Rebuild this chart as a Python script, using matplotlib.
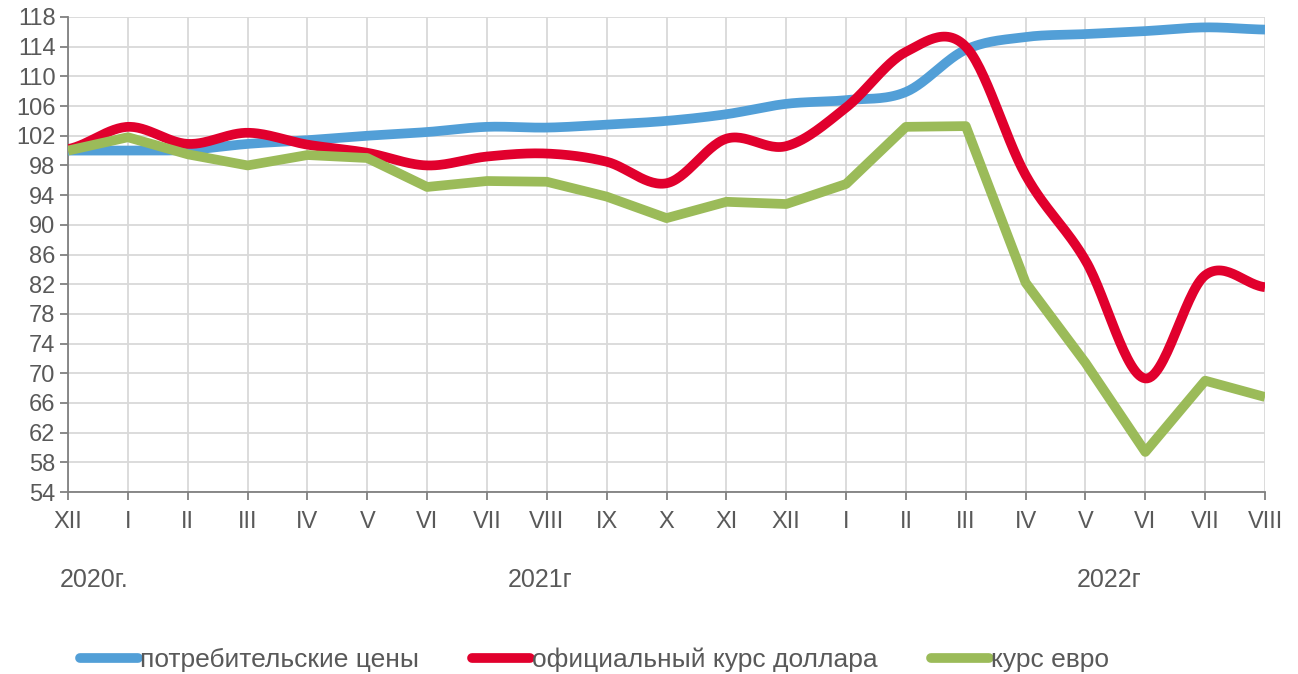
import numpy as np
import matplotlib.pyplot as plt
from matplotlib.lines import Line2D

plt.rcParams['font.family'] = ['Liberation Sans', 'DejaVu Sans']

# month labels, Dec 2020 .. Aug 2022
months = ['XII', 'I', 'II', 'III', 'IV', 'V', 'VI', 'VII', 'VIII', 'IX', 'X', 'XI',
          'XII', 'I', 'II', 'III', 'IV', 'V', 'VI', 'VII', 'VIII']

# consumer prices
cpi = [100, 100, 100.1, 100.9, 101.4, 102, 102.5, 103.2, 103.1, 103.5, 104, 104.9,
       106.3, 106.8, 107.9, 113.6, 115.3, 115.7, 116.1, 116.6, 116.3]
# official USD rate
usd = [100.2, 103.2, 100.9, 102.4, 100.8, 99.7, 98.0, 99.2, 99.6, 98.5, 95.6, 101.6,
       100.6, 105.8, 113.3, 114.0, 96.7, 85.2, 69.3, 83.2, 81.6]
# EUR rate
eur = [100, 101.8, 99.5, 98.0, 99.4, 99.0, 95.1, 95.9, 95.8, 93.8, 90.9, 93.1,
       92.8, 95.5, 103.2, 103.3, 82.2, 71.4, 59.4, 69.0, 66.8]

years = ['2020г.', '2021г', '2022г']

BLUE = '#529FD7'
RED = '#E1002D'
GREEN = '#9BBB59'
TXT = '#595959'
FS = 17


def smooth(y, n=30):
    # Excel-like smoothed line (Catmull-Rom through the points)
    y = np.asarray(y, dtype=float)
    p = np.concatenate([[y[0]], y, [y[-1]]])
    xs, ys = [], []
    for i in range(len(y) - 1):
        p0, p1, p2, p3 = p[i], p[i + 1], p[i + 2], p[i + 3]
        t = np.linspace(0, 1, n, endpoint=False)
        c1 = p1 + (p2 - p0) / 6
        c2 = p2 - (p3 - p1) / 6
        v = (1 - t) ** 3 * p1 + 3 * (1 - t) ** 2 * t * c1 + 3 * (1 - t) * t ** 2 * c2 + t ** 3 * p2
        xs.append(i + t)
        ys.append(v)
    xs.append([len(y) - 1])
    ys.append([y[-1]])
    return np.concatenate(xs), np.concatenate(ys)


fig = plt.figure(figsize=(12.98, 6.74), dpi=100)
ax = fig.add_axes([0.0524, 0.27, 0.9222, 0.7048])

x = np.arange(len(months))
lw = 7
xb, yb = smooth(cpi)
ax.plot(xb, yb, color=BLUE, lw=lw, solid_capstyle='butt', zorder=3)
xr, yr = smooth(usd)
ax.plot(xr, yr, color=RED, lw=lw, solid_capstyle='butt', zorder=4)
ax.plot(x, eur, color=GREEN, lw=lw, solid_capstyle='butt', solid_joinstyle='round', zorder=5)

ax.set_xlim(0, len(months) - 1)
ax.set_ylim(54, 118)
ax.set_yticks(np.arange(54, 119, 4))
ax.set_xticks(x)
ax.set_xticklabels(months)
ax.grid(True, color='#D9D9D9', lw=1.3)
ax.set_axisbelow(True)
for s in ['top', 'right']:
    ax.spines[s].set_visible(False)
for s in ['left', 'bottom']:
    ax.spines[s].set_color('#808080')
    ax.spines[s].set_linewidth(1.3)
ax.tick_params(axis='both', colors='#808080', labelcolor=TXT, labelsize=FS,
               length=6, width=1.3)
ax.tick_params(axis='x', pad=8)
ax.tick_params(axis='y', pad=3)

fig.text(60 / 1298, 1 - 580 / 674, years[0], color=TXT, fontsize=18, va='center')
fig.text(508 / 1298, 1 - 580 / 674, years[1], color=TXT, fontsize=18, va='center')
fig.text(1077 / 1298, 1 - 580 / 674, years[2], color=TXT, fontsize=18, va='center')

handles = [Line2D([], [], color=c, lw=lw, solid_capstyle='round') for c in (BLUE, RED, GREEN)]
labels = ['потребительские цены', 'официальный курс доллара', 'курс евро']
fig.legend(handles, labels, loc='center', bbox_to_anchor=(0.458, 1 - 660 / 674), ncol=3,
           frameon=False, fontsize=19, labelcolor=TXT, handlelength=2.2,
           handletextpad=0.08, columnspacing=2.0)

fig.savefig('out.png', dpi=100)
